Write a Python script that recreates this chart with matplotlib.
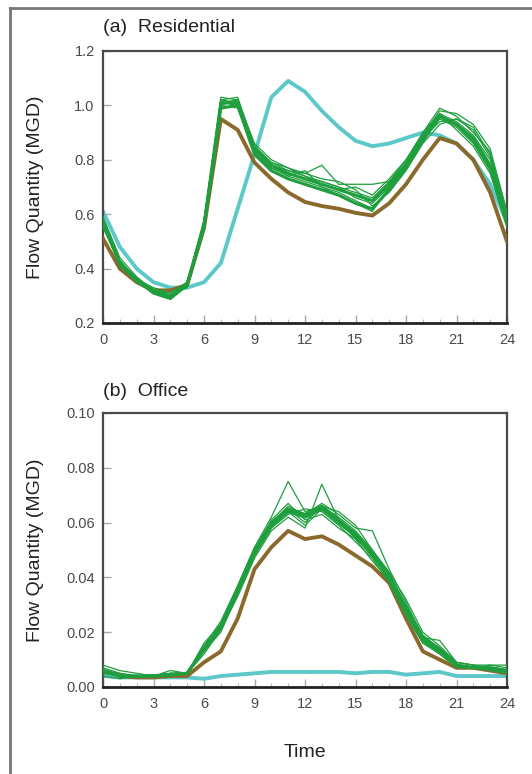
import matplotlib
matplotlib.use("Agg")
import matplotlib.pyplot as plt
from matplotlib.lines import Line2D
from matplotlib.ticker import MultipleLocator

plt.rcParams['font.family'] = ['Liberation Sans', 'DejaVu Sans']

hours = list(range(25))
xticks = [0, 3, 6, 9, 12, 15, 18, 21, 24]

# (a) residential
res_cyan = [0.61, 0.48, 0.40, 0.35, 0.33, 0.33, 0.35, 0.42, 0.62, 0.82, 1.03, 1.09, 1.05,
            0.98, 0.92, 0.87, 0.85, 0.86, 0.88, 0.90, 0.89, 0.86, 0.80, 0.71, 0.57]
res_brown = [0.51, 0.40, 0.35, 0.32, 0.32, 0.34, 0.55, 0.95, 0.91, 0.79, 0.73, 0.68, 0.645,
             0.63, 0.62, 0.605, 0.595, 0.64, 0.71, 0.80, 0.88, 0.86, 0.80, 0.68, 0.50]
res_green = [
    [0.57, 0.42, 0.36, 0.32, 0.30, 0.34, 0.56, 1.01, 1.01, 0.84, 0.78, 0.75, 0.73, 0.71, 0.69, 0.67, 0.65, 0.71, 0.78, 0.88, 0.96, 0.93, 0.87, 0.77, 0.57],
    [0.57, 0.42, 0.36, 0.31, 0.29, 0.34, 0.55, 0.99, 1.00, 0.82, 0.76, 0.73, 0.71, 0.69, 0.67, 0.64, 0.62, 0.69, 0.77, 0.87, 0.96, 0.93, 0.88, 0.78, 0.57],
    [0.58, 0.43, 0.36, 0.31, 0.30, 0.35, 0.57, 1.02, 1.03, 0.85, 0.79, 0.76, 0.74, 0.72, 0.70, 0.66, 0.64, 0.70, 0.79, 0.89, 0.97, 0.94, 0.89, 0.80, 0.58],
    [0.56, 0.41, 0.35, 0.31, 0.29, 0.34, 0.55, 1.00, 0.99, 0.83, 0.77, 0.74, 0.72, 0.70, 0.68, 0.65, 0.62, 0.69, 0.77, 0.87, 0.95, 0.92, 0.86, 0.76, 0.56],
    [0.59, 0.44, 0.37, 0.32, 0.31, 0.35, 0.56, 1.03, 1.02, 0.86, 0.80, 0.77, 0.75, 0.78, 0.71, 0.71, 0.71, 0.72, 0.80, 0.90, 0.99, 0.96, 0.90, 0.83, 0.60],
    [0.57, 0.42, 0.35, 0.31, 0.30, 0.33, 0.55, 1.01, 1.00, 0.85, 0.78, 0.74, 0.76, 0.70, 0.67, 0.64, 0.61, 0.70, 0.78, 0.88, 0.94, 0.95, 0.92, 0.82, 0.59],
    [0.55, 0.42, 0.36, 0.32, 0.30, 0.34, 0.57, 1.00, 1.02, 0.83, 0.77, 0.75, 0.73, 0.72, 0.70, 0.68, 0.66, 0.72, 0.79, 0.90, 0.97, 0.91, 0.85, 0.75, 0.55],
    [0.58, 0.43, 0.36, 0.32, 0.29, 0.34, 0.56, 1.02, 1.01, 0.84, 0.78, 0.76, 0.75, 0.73, 0.72, 0.69, 0.63, 0.68, 0.76, 0.86, 0.93, 0.95, 0.91, 0.81, 0.58],
    [0.56, 0.41, 0.36, 0.33, 0.31, 0.35, 0.58, 1.01, 1.02, 0.85, 0.79, 0.77, 0.74, 0.71, 0.69, 0.70, 0.67, 0.73, 0.80, 0.89, 0.98, 0.97, 0.93, 0.84, 0.61],
]

# (b) office
off_cyan = [0.004, 0.0035, 0.0035, 0.0035, 0.0035, 0.0035, 0.003, 0.004, 0.0045, 0.005, 0.0055, 0.0055, 0.0055,
            0.0055, 0.0055, 0.005, 0.0055, 0.0055, 0.0045, 0.005, 0.0055, 0.004, 0.004, 0.004, 0.004]
off_brown = [0.006, 0.004, 0.0035, 0.0035, 0.004, 0.004, 0.009, 0.013, 0.025, 0.043, 0.051, 0.057, 0.054,
             0.055, 0.052, 0.048, 0.044, 0.038, 0.025, 0.013, 0.010, 0.007, 0.007, 0.006, 0.005]
off_green = [
    [0.006, 0.004, 0.004, 0.004, 0.0045, 0.005, 0.014, 0.022, 0.035, 0.049, 0.059, 0.064, 0.062, 0.065, 0.060, 0.055, 0.048, 0.040, 0.028, 0.017, 0.013, 0.008, 0.007, 0.007, 0.006],
    [0.006, 0.004, 0.004, 0.004, 0.0045, 0.005, 0.014, 0.022, 0.036, 0.050, 0.060, 0.065, 0.063, 0.066, 0.061, 0.056, 0.049, 0.041, 0.029, 0.018, 0.014, 0.008, 0.007, 0.007, 0.006],
    [0.007, 0.005, 0.004, 0.004, 0.005, 0.005, 0.015, 0.024, 0.037, 0.051, 0.062, 0.075, 0.064, 0.066, 0.062, 0.057, 0.050, 0.041, 0.030, 0.019, 0.014, 0.009, 0.008, 0.008, 0.007],
    [0.005, 0.004, 0.0035, 0.004, 0.004, 0.005, 0.012, 0.021, 0.033, 0.047, 0.057, 0.062, 0.058, 0.074, 0.061, 0.054, 0.046, 0.039, 0.027, 0.016, 0.012, 0.008, 0.007, 0.006, 0.005],
    [0.006, 0.004, 0.004, 0.004, 0.006, 0.005, 0.016, 0.023, 0.036, 0.050, 0.060, 0.066, 0.063, 0.067, 0.063, 0.058, 0.057, 0.043, 0.031, 0.018, 0.017, 0.009, 0.008, 0.007, 0.006],
    [0.008, 0.006, 0.005, 0.004, 0.005, 0.005, 0.013, 0.020, 0.034, 0.048, 0.058, 0.063, 0.065, 0.064, 0.059, 0.053, 0.047, 0.038, 0.026, 0.016, 0.013, 0.008, 0.007, 0.008, 0.008],
    [0.005, 0.004, 0.004, 0.0045, 0.0045, 0.005, 0.015, 0.022, 0.036, 0.050, 0.060, 0.065, 0.060, 0.066, 0.064, 0.059, 0.050, 0.042, 0.032, 0.020, 0.015, 0.009, 0.008, 0.007, 0.005],
    [0.006, 0.005, 0.004, 0.004, 0.004, 0.005, 0.014, 0.023, 0.035, 0.049, 0.061, 0.067, 0.061, 0.063, 0.058, 0.054, 0.049, 0.040, 0.029, 0.018, 0.013, 0.008, 0.007, 0.006, 0.006],
    [0.004, 0.003, 0.004, 0.004, 0.005, 0.005, 0.013, 0.021, 0.034, 0.048, 0.058, 0.064, 0.059, 0.065, 0.061, 0.056, 0.048, 0.039, 0.027, 0.017, 0.012, 0.007, 0.007, 0.007, 0.005],
]

CYAN = '#5cc8ca'
BROWN = '#8a6a2c'
GREEN = '#1f9e3e'

fig = plt.figure(figsize=(5.32, 7.74), dpi=100)

# grey frame around the figure (left and top only visible)
fig.add_artist(Line2D([10 / 532, 10 / 532], [0, 1 - 8 / 774], color='#777777', lw=2))
fig.add_artist(Line2D([10 / 532, 1], [1 - 8 / 774, 1 - 8 / 774], color='#777777', lw=2))

ax1 = fig.add_axes([103 / 532, 1 - 323 / 774, 404 / 532, 272 / 774])
ax2 = fig.add_axes([103 / 532, 1 - 687 / 774, 404 / 532, 274 / 774])


def draw(ax, cyan, brown, greens):
    ax.plot(hours, cyan, color=CYAN, lw=2.8, solid_joinstyle='round', zorder=2)
    ax.plot(hours, brown, color=BROWN, lw=2.8, solid_joinstyle='round', zorder=3)
    for i, g in enumerate(greens):
        ax.plot(hours, g, color=GREEN, lw=2.2 if i < 2 else 0.9, zorder=4)


draw(ax1, res_cyan, res_brown, res_green)
draw(ax2, off_cyan, off_brown, off_green)

for ax in (ax1, ax2):
    ax.set_xlim(0, 24)
    ax.set_xticks(xticks)
    ax.xaxis.set_minor_locator(MultipleLocator(1))
    ax.tick_params(which='major', direction='in', length=6, width=1, color='#aaaaaa',
                   labelcolor='#4a4a4a', labelsize=10.5, pad=7)
    ax.tick_params(which='minor', direction='in', length=3, width=0.8, color='#bbbbbb')
    ax.tick_params(axis='y', which='major', pad=6)
    for s in ax.spines.values():
        s.set_color('#4a4a4a')
        s.set_linewidth(1.6)
    ax.spines['bottom'].set_color('#222222')
    ax.spines['bottom'].set_linewidth(2)
    ax.set_ylabel('Flow Quantity (MGD)', fontsize=14, color='#222222')
    ax.yaxis.set_label_coords(-0.145, 0.5)

ax1.set_ylim(0.2, 1.2)
ax1.set_yticks([0.2, 0.4, 0.6, 0.8, 1.0, 1.2])
ax1.set_yticklabels(['0.2', '0.4', '0.6', '0.8', '1.0', '1.2'])

ax2.set_ylim(0, 0.10)
ax2.set_yticks([0, 0.02, 0.04, 0.06, 0.08, 0.10])
ax2.set_yticklabels(['0.00', '0.02', '0.04', '0.06', '0.08', '0.10'])
ax2.set_xlabel('Time', fontsize=14, color='#222222', labelpad=24)

fig.text(103 / 532, 1 - 27 / 774, '(a)  Residential', fontsize=14, color='#222222', va='center')
fig.text(103 / 532, 1 - 392 / 774, '(b)  Office', fontsize=14, color='#222222', va='center')

fig.savefig('out.png', dpi=100)
